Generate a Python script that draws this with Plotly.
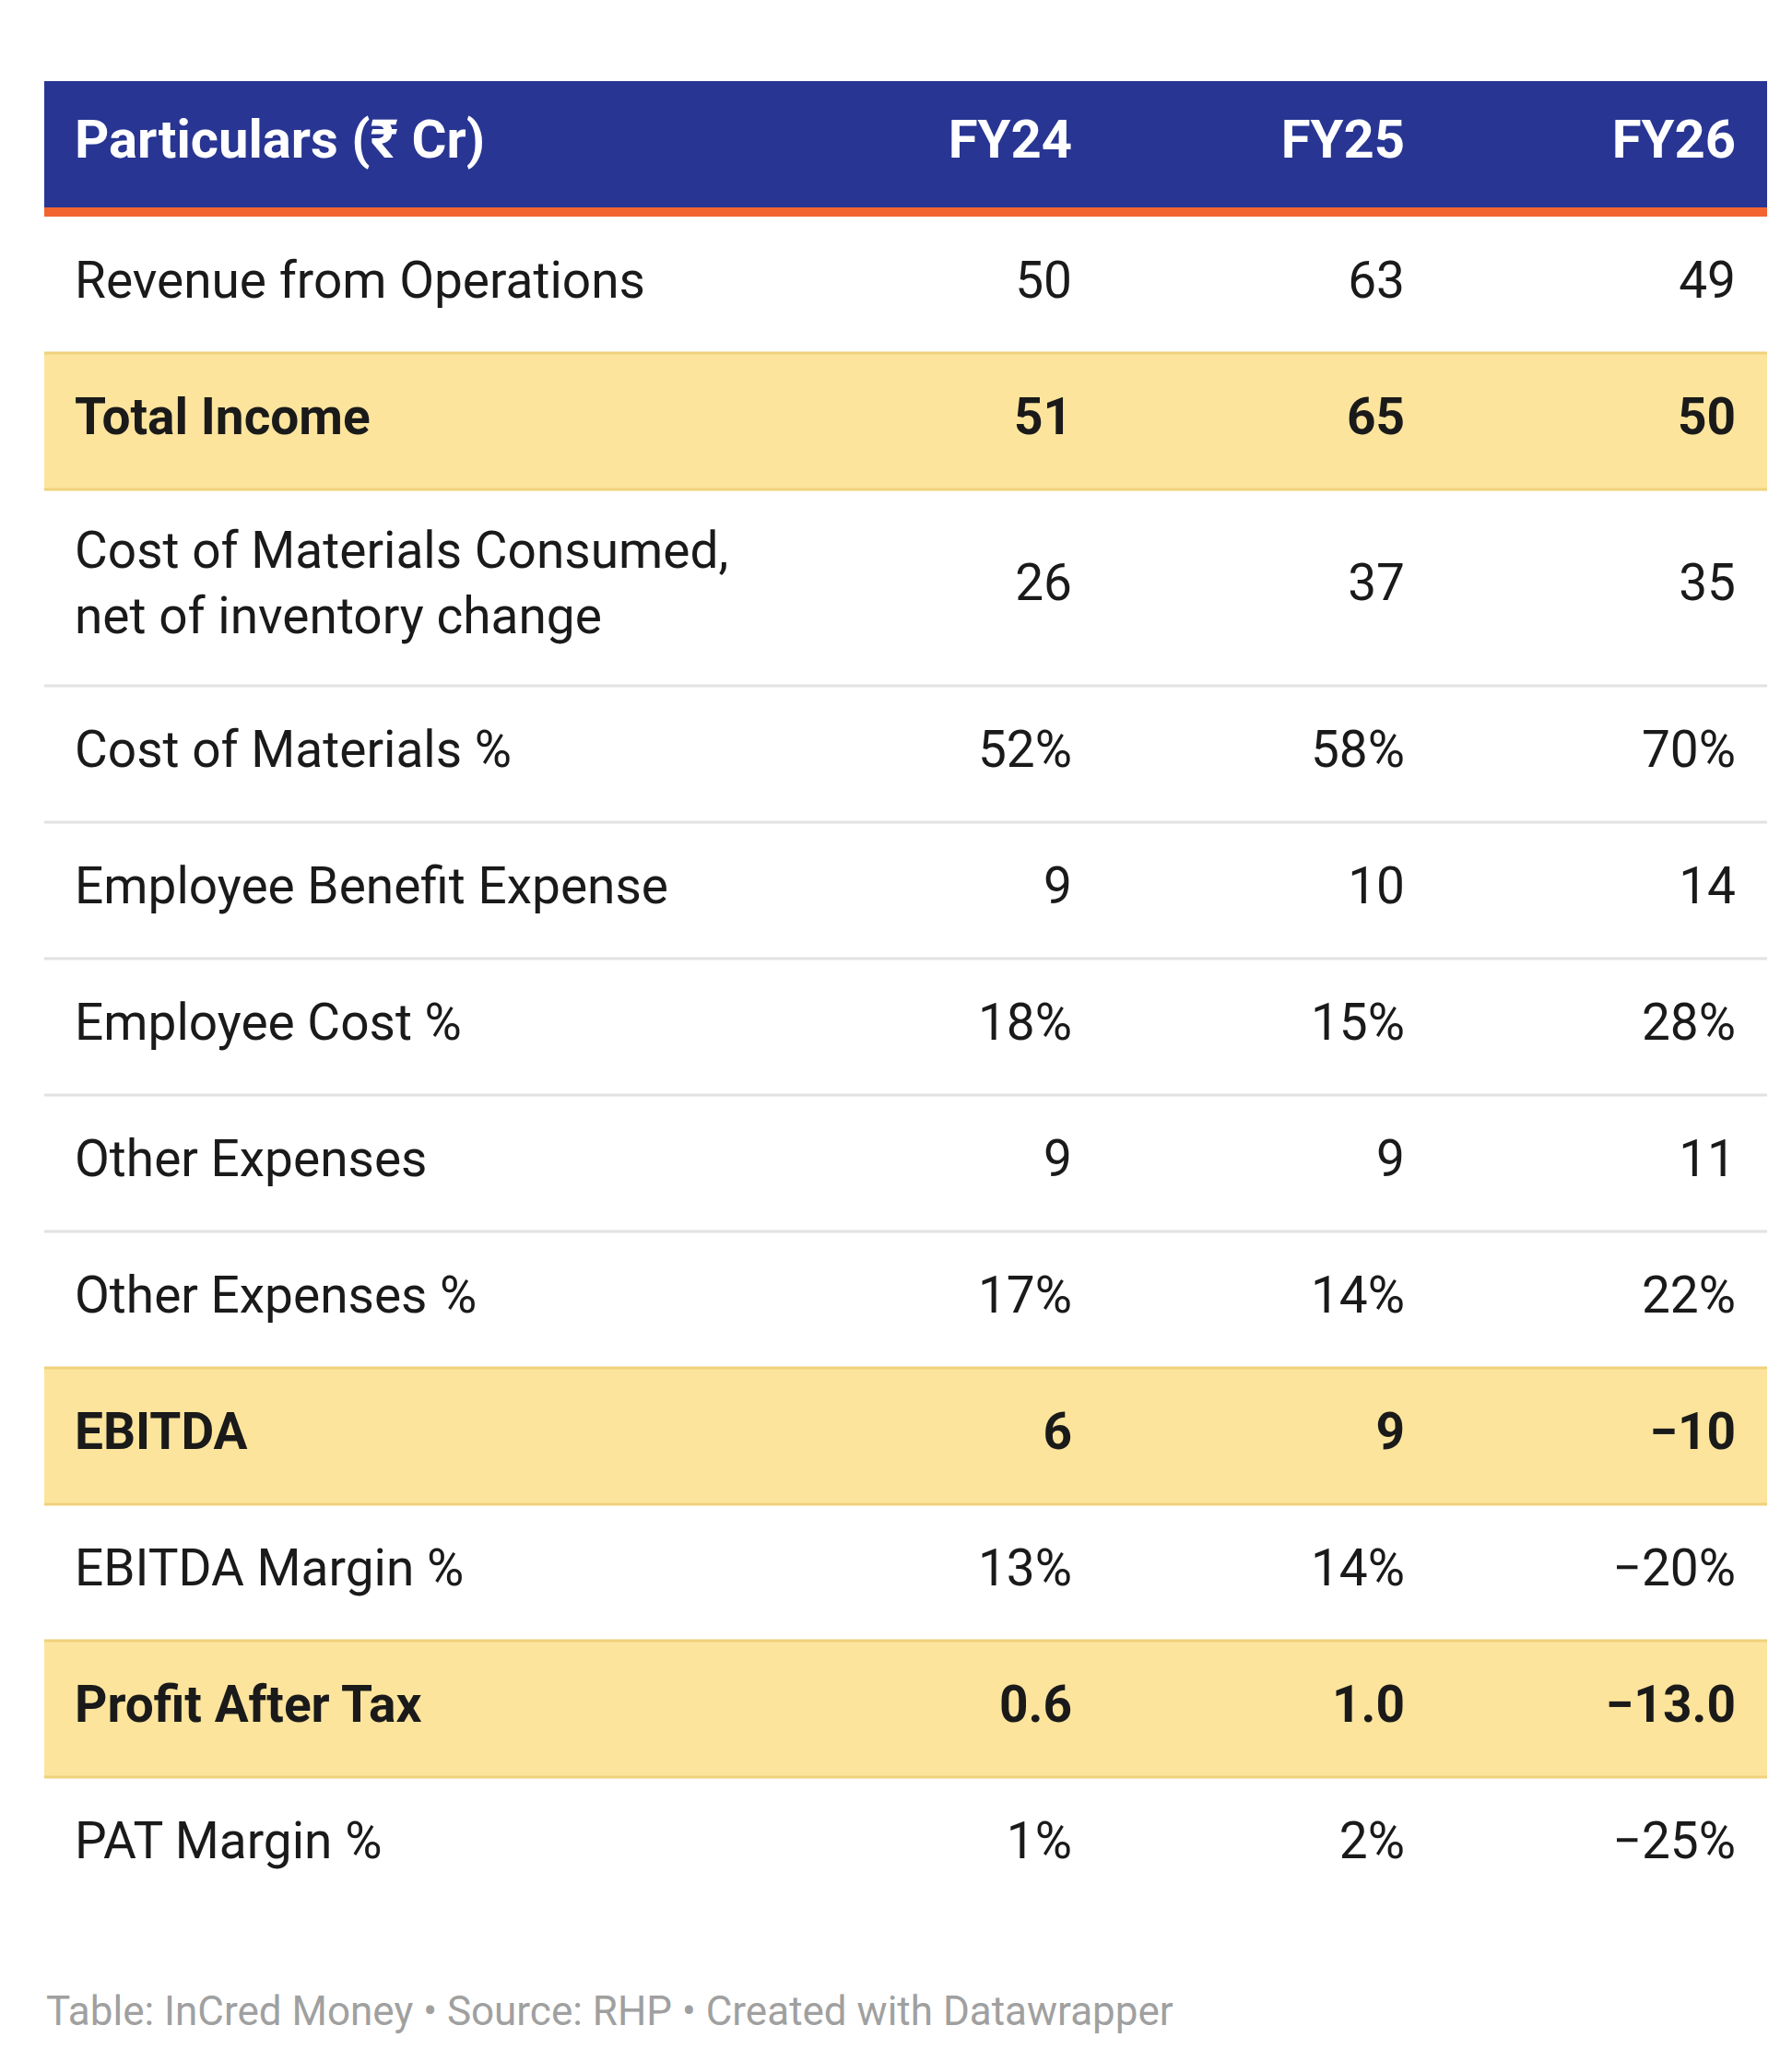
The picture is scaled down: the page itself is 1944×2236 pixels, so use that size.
import plotly.graph_objects as go

header = ["Particulars (₹ Cr)", "FY24", "FY25", "FY26"]
particulars = ["Revenue from Operations", "Total Income",
               "Cost of Materials Consumed,<br>net of inventory change",
               "Cost of Materials %", "Employee Benefit Expense", "Employee Cost %",
               "Other Expenses", "Other Expenses %", "EBITDA", "EBITDA Margin %",
               "Profit After Tax", "PAT Margin %"]
fy24 = ["50", "51", "26", "52%", "9", "18%", "9", "17%", "6", "13%", "0.6", "1%"]
fy25 = ["63", "65", "37", "58%", "10", "15%", "9", "14%", "9", "14%", "1.0", "2%"]
fy26 = ["49", "50", "35", "70%", "14", "28%", "11", "22%", "−10", "−20%", "−13.0", "−25%"]
bold_rows = [1, 8, 10]

W, H = 1944, 2236
left, right = 40, 1909
head_top, head_bot, rows_top = 80, 217, 227
col_x = [73, 1155, 1516, 1875]

heights = [213 if "<br>" in p else 148 for p in particulars]
tops = []
y = rows_top
for h in heights:
    tops.append(y)
    y += h
centers = [t + h / 2 for t, h in zip(tops, heights)]

fig = go.Figure()
shapes = [
    dict(type="rect", x0=left, x1=right, y0=head_top, y1=head_bot, fillcolor="#283593", line_width=0, layer="below"),
    dict(type="rect", x0=left, x1=right, y0=head_bot, y1=rows_top, fillcolor="#f26531", line_width=0, layer="below"),
]
for i, (t, h) in enumerate(zip(tops, heights)):
    if i in bold_rows:
        shapes.append(dict(type="rect", x0=left, x1=right, y0=t, y1=t + h, fillcolor="#fde49c",
                           line_width=0, layer="below"))
for i in range(1, len(tops)):
    hl = i in bold_rows or (i - 1) in bold_rows
    shapes.append(dict(type="line", x0=left, x1=right, y0=tops[i], y1=tops[i],
                       line=dict(color="#f0d27c" if hl else "#e2e2e2", width=3), layer="below"))

cols = [particulars, fy24, fy25, fy26]
for j, c in enumerate(cols):
    txt = [f"<b>{v}</b>" if i in bold_rows else v for i, v in enumerate(c)]
    fig.add_trace(go.Scatter(x=[col_x[j]] * len(c), y=centers, mode="text", text=txt,
                             textposition="middle right" if j == 0 else "middle left",
                             textfont=dict(family="Roboto", size=55, color="#1a1a1a"),
                             hoverinfo="skip", showlegend=False))
    fig.add_trace(go.Scatter(x=[col_x[j]], y=[(head_top + head_bot) / 2], mode="text",
                             text=[f"<b>{header[j]}</b>"],
                             textposition="middle right" if j == 0 else "middle left",
                             textfont=dict(family="Roboto", size=58, color="white"),
                             hoverinfo="skip", showlegend=False))

fig.add_annotation(text="Table: InCred Money • Source: RHP • Created with Datawrapper",
                   x=left, y=2174, xanchor="left", yanchor="middle", showarrow=False,
                   font=dict(family="Roboto", size=44, color="#a0a0a0"))

fig.update_layout(width=W, height=H, margin=dict(l=0, r=0, t=0, b=0),
                  paper_bgcolor="white", plot_bgcolor="white", shapes=shapes,
                  xaxis=dict(range=[0, W], visible=False, fixedrange=True),
                  yaxis=dict(range=[H, 0], visible=False, fixedrange=True))
fig.write_html("out.html")
